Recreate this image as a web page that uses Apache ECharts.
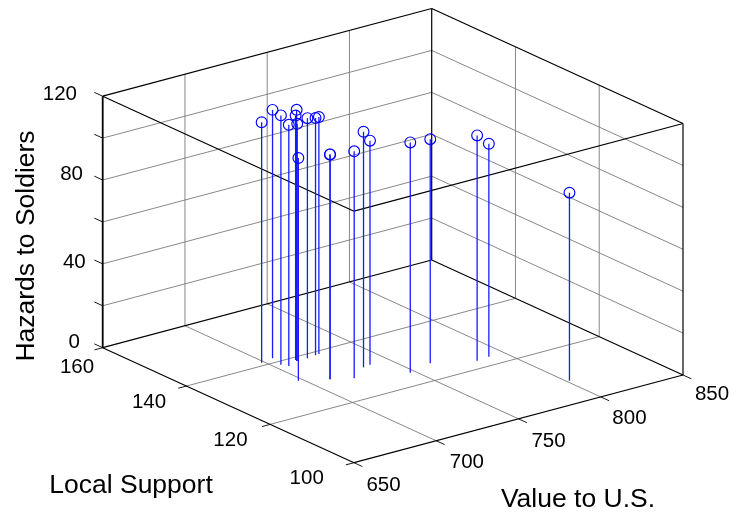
<!DOCTYPE html>
<html>
<head>
<meta charset="utf-8">
<style>html,body{margin:0;padding:0;background:#fff}#c{width:730px;height:512px}</style>
<script src="https://cdn.jsdelivr.net/npm/echarts@6/dist/echarts.min.js"></script>
</head>
<body>
<div id="c"></div>
<script>
// ---- data ----
const valueToUS = [698.5,706.4,704.1,706.1,713.4,713.8,713.5,719.7,725.4,727.7,697.4,710.8,710.8,720.9,733.7,738.4,747.1,762.8,782.9,790.8,801.6];
const localSupport = [141.1,141.6,138.7,137.6,138.6,139.0,138.5,138.5,138.8,138.9,131.9,129.6,129.6,127.8,130.6,130.9,124.7,126.1,122.8,123.1,108.1];
const hazards = [114.7,118.5,119.0,115.1,119.8,116.6,113.2,114.6,113.2,113.1,106.3,107.3,107.3,108.3,112.4,106.9,109.9,106.9,107.5,101.6,89.7];
const xTicks = [650,700,750,800,850];
const yTicks = [100,120,140,160];
const zTicks = [0,40,80,120];
const zGrid = [20,40,60,80,100];
const xTitle = 'Value to U.S.';
const yTitle = 'Local Support';
const zTitle = 'Hazards to Soldiers';

// ---- view: orthographic projection of the 3D box on the page ----
const X0=650,X1=850,Y0=100,Y1=160,Z0=0,Z1=120;
const ORIGIN=[354,462.7], XV=[329,-87.7], YV=[-251.3,-115], ZH=251.5;
function project(x,y,z){
  const u=(x-X0)/(X1-X0), v=(y-Y0)/(Y1-Y0), w=(z-Z0)/(Z1-Z0);
  return [ORIGIN[0]+u*XV[0]+v*YV[0], ORIGIN[1]+u*XV[1]+v*YV[1]-w*ZH];
}
// label nudges from the tick's anchor on the page
const xLabelNudge=[[29.5,22.8],[30.6,21.4],[30,22.6],[28.7,21.2],[29,19.5]];
const yLabelNudge=[[-47.3,15.8],[-39.8,16.1],[-37.4,16.5],[-25.7,19.5]];
const zLabelNudge=[[-22.7,-5.5],[-17,-1.5],[-19.7,-5.5],[-25.7,-2]];

// ---- segments in data space ----
const seg=(a,b)=>[a[0],a[1],a[2],b[0],b[1],b[2]];
const frame=[
  seg([X1,Y1,Z0],[X1,Y1,Z1]), seg([X1,Y0,Z0],[X1,Y0,Z1]),
  seg([X0,Y1,Z1],[X1,Y1,Z1]), seg([X1,Y1,Z1],[X1,Y0,Z1]),
  seg([X0,Y1,Z1],[X0,Y0,Z1]), seg([X0,Y0,Z1],[X1,Y0,Z1]),
  seg([X0,Y1,Z0],[X1,Y1,Z0]), seg([X1,Y1,Z0],[X1,Y0,Z0]),
  seg([X0,Y1,Z0],[X0,Y0,Z0]), seg([X0,Y0,Z0],[X1,Y0,Z0])
];
const leftEdge=[seg([X0,Y1,Z0],[X0,Y1,Z1])];
const grid=[], ticks=[];
xTicks.slice(1,-1).forEach(x=>{
  grid.push(seg([x,Y0,Z0],[x,Y1,Z0]));
  grid.push(seg([x,Y1,Z0],[x,Y1,Z1]));
});
yTicks.slice(1,-1).forEach(y=>{
  grid.push(seg([X0,y,Z0],[X1,y,Z0]));
  grid.push(seg([X1,y,Z0],[X1,y,Z1]));
});
zGrid.forEach(z=>{
  grid.push(seg([X0,Y1,z],[X1,Y1,z]));
  grid.push(seg([X1,Y1,z],[X1,Y0,z]));
});
xTicks.forEach(x=>ticks.push(seg([x,Y0,Z0],[x,Y0-2,Z0])));
yTicks.forEach(y=>ticks.push(seg([X0,y,Z0],[X0-5,y,Z0])));
[0,20,40,60,80,100,120].forEach(z=>ticks.push(seg([X0,Y1,z],[X0,Y1+2,z])));

const stems=valueToUS.map((x,i)=>seg([x,localSupport[i],0],[x,localSupport[i],hazards[i]]));
const tops=valueToUS.map((x,i)=>[x,localSupport[i],hazards[i]]);

const labels=[];
xTicks.forEach((t,i)=>labels.push({t:String(t),p:project(t,Y0,Z0),n:xLabelNudge[i],a:'center'}));
yTicks.forEach((t,i)=>labels.push({t:String(t),p:project(X0,t,Z0),n:yLabelNudge[i],a:'center'}));
zTicks.forEach((t,i)=>labels.push({t:String(t),p:project(X0,Y1,t),n:zLabelNudge[i],a:'right'}));

function segSeries(name,rows,color,width,z){
  return {
    type:'custom',name,data:rows,silent:true,clip:false,z,
    renderItem(p,api){
      const a=project(api.value(0),api.value(1),api.value(2));
      const b=project(api.value(3),api.value(4),api.value(5));
      const A=api.coord(a),B=api.coord(b);
      return {type:'line',shape:{x1:A[0],y1:A[1],x2:B[0],y2:B[1]},style:{stroke:color,lineWidth:width,fill:null}};
    }
  };
}
const FONT='"Liberation Sans",Arial,sans-serif';
const chart=echarts.init(document.getElementById('c'));
chart.setOption({
  animation:false,
  backgroundColor:'#fff',
  grid:{left:0,right:0,top:0,bottom:0},
  xAxis:{type:'value',min:0,max:730,show:false},
  yAxis:{type:'value',min:0,max:512,inverse:true,show:false},
  tooltip:{show:false},
  series:[
    segSeries('grid',grid,'#7a7a7a',0.9,1),
    segSeries('frame',frame,'#000',1.2,2),
    segSeries('leftEdge',leftEdge,'#000',1.8,2),
    segSeries('ticks',ticks,'#000',0.9,2),
    segSeries('stems',stems,'#1a1aff',1.3,3),
    {
      type:'custom',name:'points',data:tops,silent:true,clip:false,z:4,
      renderItem(p,api){
        const c=api.coord(project(api.value(0),api.value(1),api.value(2)));
        return {type:'circle',shape:{cx:c[0],cy:c[1],r:5.4},style:{fill:null,stroke:'#0000ff',lineWidth:1.15}};
      }
    },
    {
      type:'custom',name:'tickLabels',data:labels.map((l,i)=>[i]),silent:true,clip:false,z:5,
      renderItem(p,api){
        const l=labels[api.value(0)];
        const c=api.coord([l.p[0]+l.n[0],l.p[1]+l.n[1]]);
        return {type:'text',x:c[0],y:c[1],style:{text:l.t,fill:'#000',font:'20.5px '+FONT,align:l.a,verticalAlign:'middle'}};
      }
    }
  ],
  graphic:[
    {type:'text',x:578,y:500,silent:true,style:{text:xTitle,fill:'#000',font:'26.5px '+FONT,align:'center',verticalAlign:'middle'}},
    {type:'text',x:131,y:486,silent:true,style:{text:yTitle,fill:'#000',font:'26.5px '+FONT,align:'center',verticalAlign:'middle'}},
    {type:'text',x:27,y:246,rotation:Math.PI/2,silent:true,style:{text:zTitle,fill:'#000',font:'26.5px '+FONT,align:'center',verticalAlign:'middle'}}
  ]
});
</script>
</body>
</html>
